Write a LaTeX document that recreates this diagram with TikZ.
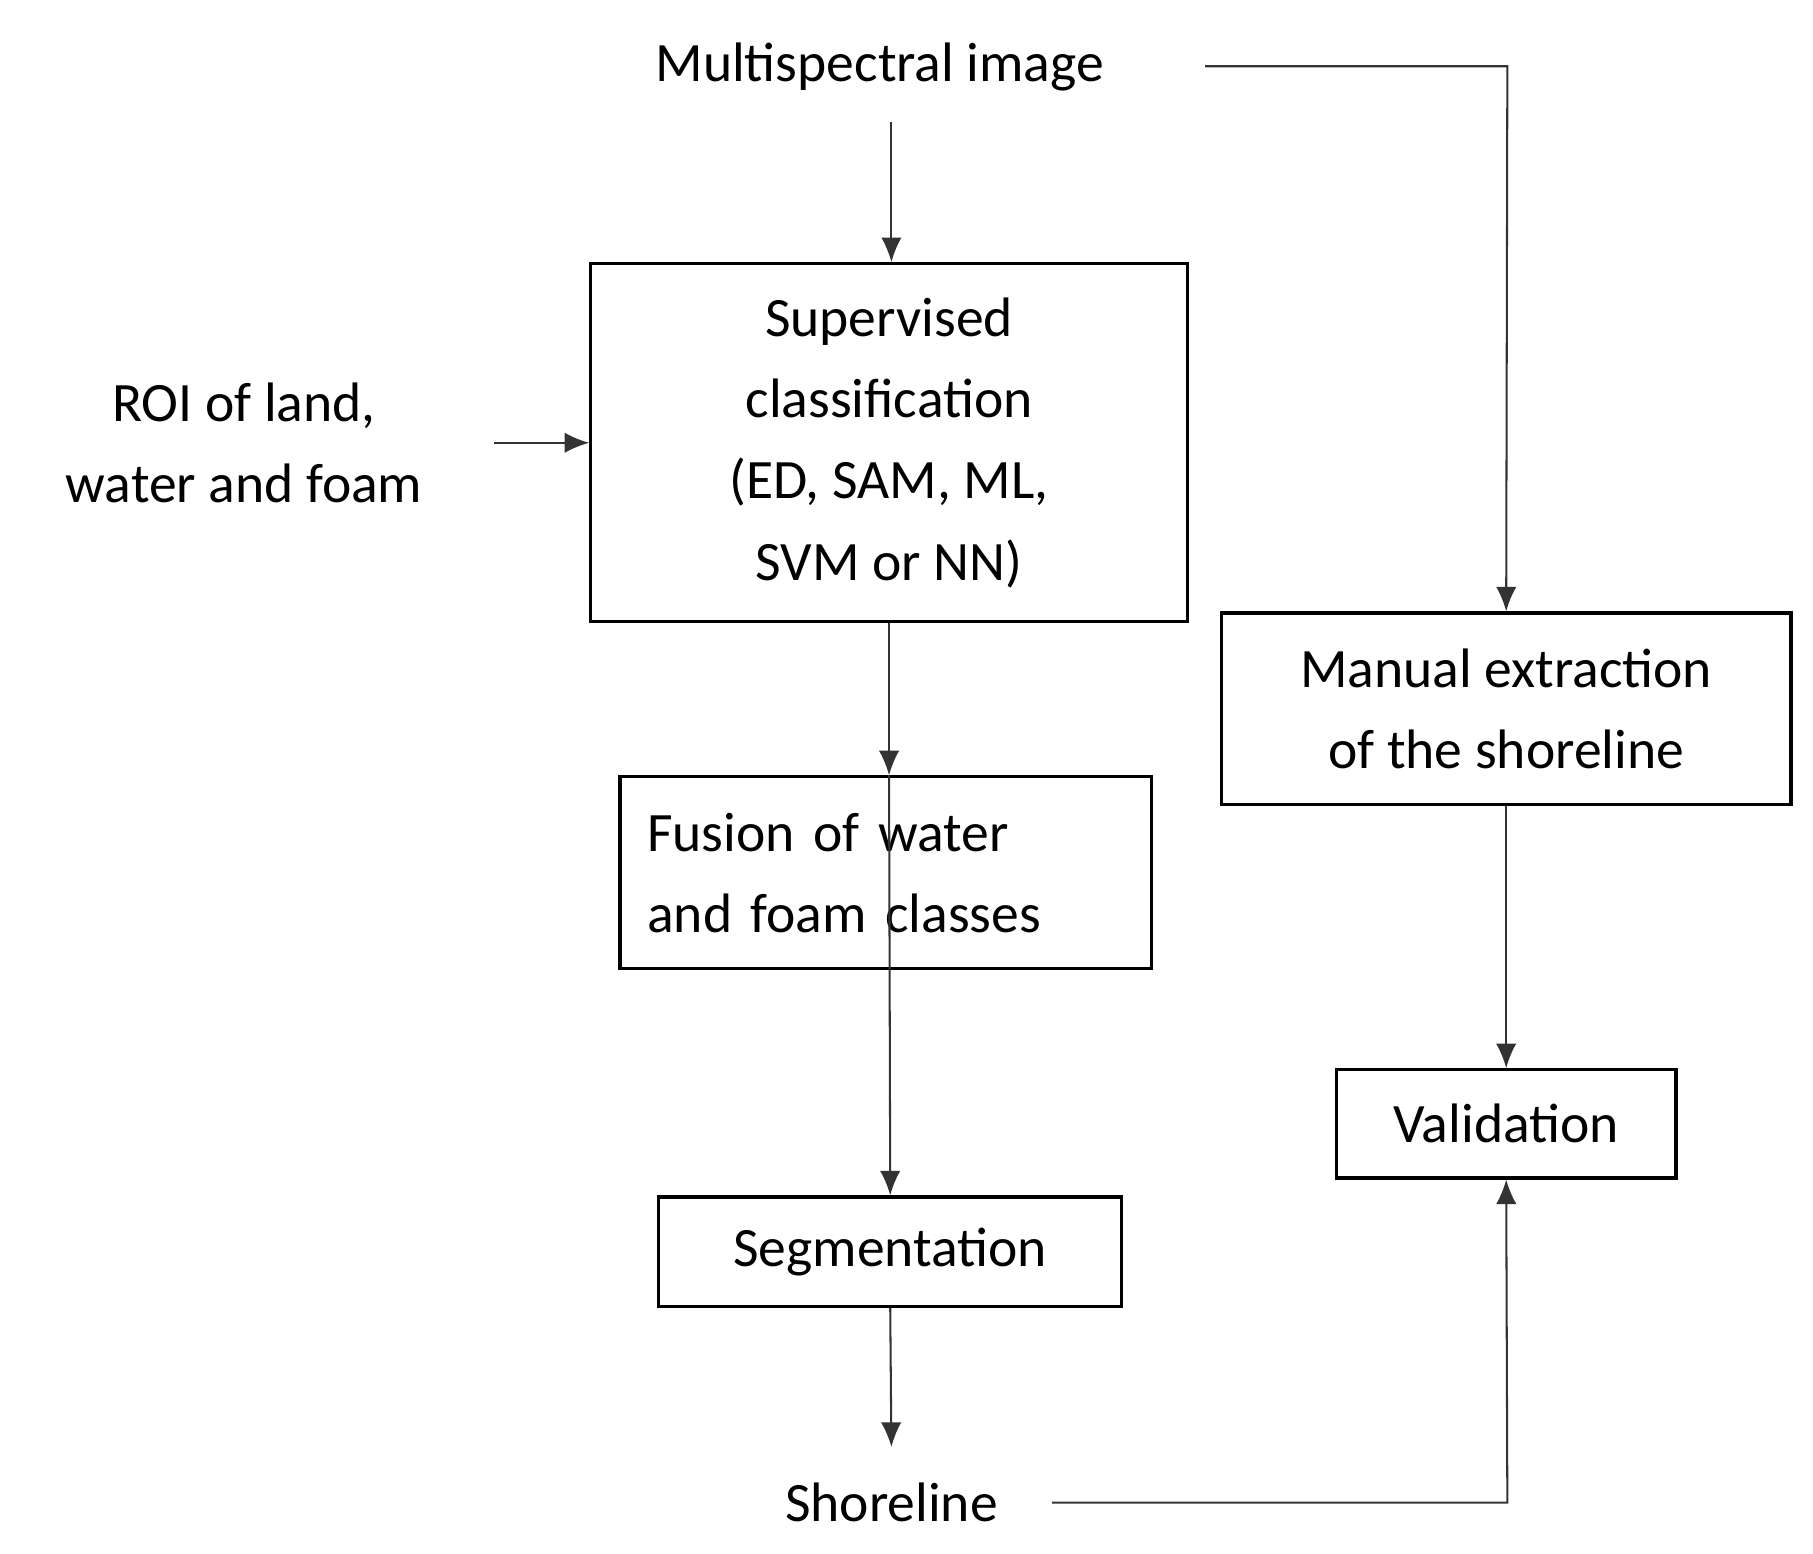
\documentclass[tikz,border=0pt]{standalone}
\usepackage{fontspec}
\setmainfont{Carlito}
\usetikzlibrary{arrows.meta}
\begin{document}
\begin{tikzpicture}[x=0.01cm,y=-0.01cm,
  every node/.style={font=\fontsize{13.6}{19.9}\selectfont, align=center, inner sep=0pt},
  box/.style={draw, line width=0.8pt},
  conn/.style={line width=0.5pt, draw=black!80, -{Latex[length=6pt,width=5pt]}}]
\useasboundingbox (0,0) rectangle (1560,1337);
\node (ms) at (757,58) {Multispectral image};
\node[box, minimum width=5.13cm, minimum height=3.08cm] (sup) at (765,381) {Supervised\\classification\\(ED, SAM, ML,\\SVM or NN)};
\node (roi) at (210,381) {ROI of land,\\water and foam};
\node[box, minimum width=4.9cm, minimum height=1.65cm] (man) at (1296,610) {Manual extraction\\of the shoreline};
\node[box, minimum width=4.57cm, minimum height=1.65cm, align=left, text width=4.1cm] (fus) at (762,751) {Fusion of water\\and foam classes};
\node[box, minimum width=2.92cm, minimum height=0.93cm] (val) at (1296,967) {Validation};
\node[box, minimum width=3.98cm, minimum height=0.94cm] (seg) at (766,1077) {Segmentation};
\node (sh) at (767,1293) {Shoreline};
\coordinate (a) at (1297,57);
\coordinate (b) at (1297,1293);
\draw[conn] (767,105) -- (sup.north -| 767,0);
\draw[conn] (425,381) -- (sup.west);
\draw[conn] (1037,57) -- (a) -- (man.north);
\draw[conn] (sup.south) -- (fus.north -| 765,0);
\draw[conn] (fus.north -| 765,834) -- (seg.north);
\draw[conn] (seg.south) -- (767,1245);
\draw[conn] (man.south) -- (val.north);
\draw[conn] (905,1293) -- (b) -- (val.south);
\end{tikzpicture}
\end{document}
